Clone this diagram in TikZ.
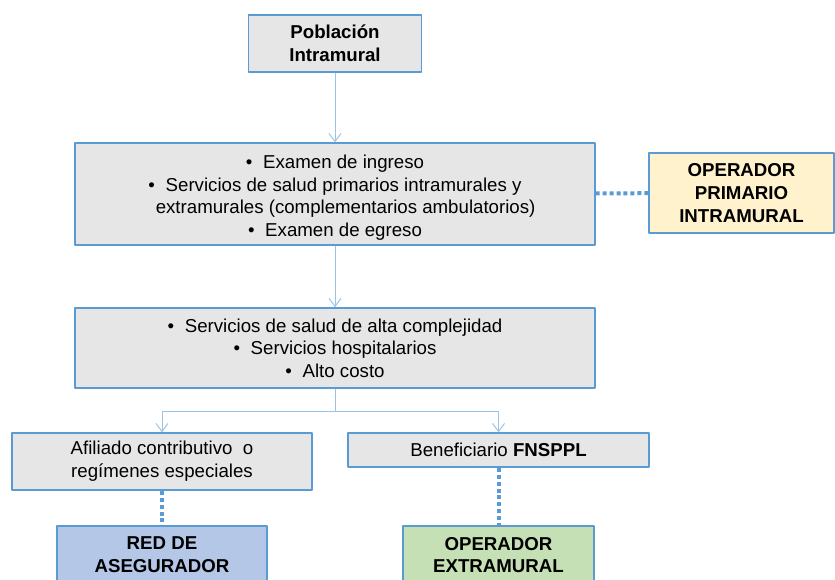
\documentclass[tikz,border=0pt]{standalone}
\usepackage{fontspec}
\setmainfont{Liberation Sans}
\usetikzlibrary{arrows.meta}
\definecolor{borde}{HTML}{5B9BD5}
\definecolor{flechaazul}{HTML}{9DC3E6}
\definecolor{gris}{HTML}{E6E6E6}
\definecolor{amarillo}{HTML}{FFF2CC}
\definecolor{azulclaro}{HTML}{B4C7E7}
\definecolor{verde}{HTML}{C5E0B4}
\begin{document}
\begin{tikzpicture}[x=0.75pt,y=-0.75pt,>={Straight Barb[length=6pt,width=9pt]}, line join=round,
	caja/.style={draw=borde, line width=1.1pt, fill=gris, align=center, inner sep=0pt, font=\tam},
	titulo/.style={caja, font=\tam\bfseries},
	flecha/.style={->, draw=flechaazul, line width=0.75pt},
	punteado/.style={draw=borde, line width=3pt, dash pattern=on 3pt off 2.2pt}]
	\def\px{0.75pt}
	\def\tam{\fontsize{14}{17}\selectfont}
	\def\ite{\textbullet\hspace{8pt}}
	\clip (0,0) rectangle (835,580);
	% cajas
	\node[titulo, minimum width=173*\px, minimum height=57*\px] (pob) at (335,43.5) {Población\\Intramural};
	\node[caja, minimum width=520*\px, minimum height=102*\px] (serv1) at (335,194) {\rule{0pt}{15.5pt}\ite Examen de ingreso\\ \ite Servicios de salud primarios intramurales y\\ \hspace*{3pt}\phantom{\ite}extramurales (complementarios ambulatorios)\\ \ite Examen de egreso};
	\node[titulo, fill=amarillo, minimum width=185*\px, minimum height=80*\px] (oper) at (741.5,193) {OPERADOR\\PRIMARIO\\INTRAMURAL};
	\node[caja, minimum width=520*\px, minimum height=80*\px] (serv2) at (335,348) {\ite Servicios de salud de alta complejidad\\ \ite Servicios hospitalarios\\ \ite Alto costo};
	\node[caja, minimum width=300*\px, minimum height=57*\px] (afil) at (162,461.5) {Afiliado contributivo\ \ o\\regímenes especiales};
	\node[caja, minimum width=301*\px, minimum height=34*\px] (benef) at (498.5,450) {Beneficiario \textbf{FNSPPL}};
	\node[titulo, fill=azulclaro, minimum width=210*\px, minimum height=58*\px] (red) at (162,555) {RED DE\\ASEGURADOR};
	\node[titulo, fill=verde, minimum width=191*\px, minimum height=58*\px] (extra) at (498.5,555) {OPERADOR\\EXTRAMURAL};
	% conectores
	\coordinate (rama) at (335,412);
	\draw[flecha] (pob) -- (serv1);
	\draw[flecha] (serv1) -- (serv2);
	\draw[flechaazul, line width=0.75pt] (serv2) -- (rama);
	\draw[flecha] (rama) -| (afil);
	\draw[flecha] (rama) -| (benef);
	\draw[punteado] (serv1) -- (oper);
	\draw[punteado] (afil) -- (red);
	\draw[punteado] (benef) -- (extra);
\end{tikzpicture}
\end{document}
